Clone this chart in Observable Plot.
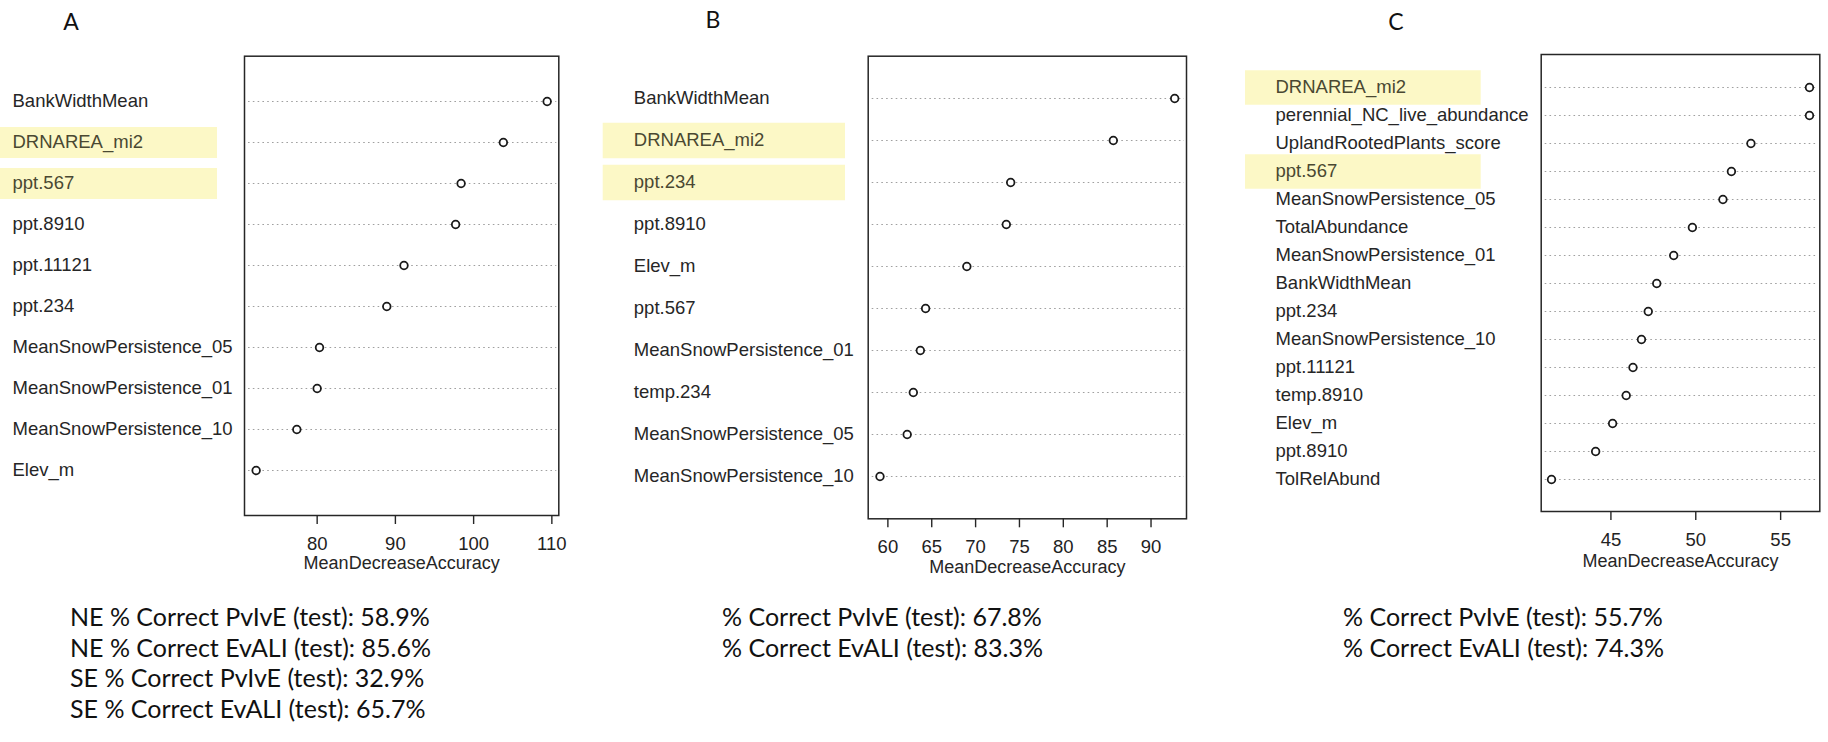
<!DOCTYPE html>
<html>
<head>
<meta charset="utf-8">
<script src="https://cdn.jsdelivr.net/npm/d3@7"></script>
<script src="https://cdn.jsdelivr.net/npm/@observablehq/plot@0.6"></script>
<style>
  html, body { margin: 0; padding: 0; background: white; }
  #root { position: relative; width: 1828px; height: 742px; overflow: hidden; background: white; }
  .panel { position: absolute; top: 0; }
  #overlay { position: absolute; left: 0; top: 0; }
</style>
</head>
<body>
<div id="root"></div>
<script>
// ---------- data ----------
const namesA = ["BankWidthMean", "DRNAREA_mi2", "ppt.567", "ppt.8910", "ppt.11121", "ppt.234",
  "MeanSnowPersistence_05", "MeanSnowPersistence_01", "MeanSnowPersistence_10", "Elev_m"];
const valuesA = [109.4, 103.8, 98.4, 97.7, 91.1, 88.9, 80.3, 80.0, 77.4, 72.2];
const highlightA = ["DRNAREA_mi2", "ppt.567"];
const ticksA = [80, 90, 100, 110];

const namesB = ["BankWidthMean", "DRNAREA_mi2", "ppt.234", "ppt.8910", "Elev_m", "ppt.567",
  "MeanSnowPersistence_01", "temp.234", "MeanSnowPersistence_05", "MeanSnowPersistence_10"];
const valuesB = [92.7, 85.7, 74.0, 73.5, 69.0, 64.3, 63.7, 62.9, 62.2, 59.1];
const highlightB = ["DRNAREA_mi2", "ppt.234"];
const ticksB = [60, 65, 70, 75, 80, 85, 90];

const namesC = ["DRNAREA_mi2", "perennial_NC_live_abundance", "UplandRootedPlants_score", "ppt.567",
  "MeanSnowPersistence_05", "TotalAbundance", "MeanSnowPersistence_01", "BankWidthMean", "ppt.234",
  "MeanSnowPersistence_10", "ppt.11121", "temp.8910", "Elev_m", "ppt.8910", "TolRelAbund"];
const valuesC = [56.7, 56.7, 53.25, 52.1, 51.6, 49.8, 48.7, 47.7, 47.2, 46.8, 46.3, 45.9, 45.1, 44.1, 41.5];
const highlightC = ["DRNAREA_mi2", "ppt.567"];
const ticksC = [45, 50, 55];

const panelLetters = ["A", "B", "C"];
const axisTitle = "MeanDecreaseAccuracy";

const statsA = ["NE % Correct PvIvE (test): 58.9%", "NE % Correct EvALI (test): 85.6%",
  "SE % Correct PvIvE (test): 32.9%", "SE % Correct EvALI (test): 65.7%"];
const statsB = ["% Correct PvIvE (test): 67.8%", "% Correct EvALI (test): 83.3%"];
const statsC = ["% Correct PvIvE (test): 55.7%", "% Correct EvALI (test): 74.3%"];

// ---------- layout (positions / styles only) ----------
const layout = [
  {names: namesA, values: valuesA, hl: highlightA, ticks: ticksA, stats: statsA,
   left: 0, width: 600, mt: 55.7, mb: 85, ml: 244, mr: 41.7,
   labelX: 12, hlX: 0, hlW: 217, hlH: 31, letterX: 71, letterY: 30, statsX: 70, titleDy: 53},
  {names: namesB, values: valuesB, hl: highlightB, ticks: ticksB, stats: statsB,
   left: 580, width: 620, mt: 55.7, mb: 81.7, ml: 287.7, mr: 14,
   labelX: 633.3, hlX: 602.7, hlW: 242.3, hlH: 35.5, letterX: 713, letterY: 27.5, statsX: 722, titleDy: 54},
  {names: namesC, values: valuesC, hl: highlightC, ticks: ticksC, stats: statsC,
   left: 1220, width: 608, mt: 54, mb: 89, ml: 320.7, mr: 8.7,
   labelX: 1275, hlX: 1245, hlW: 235.7, hlH: 34.4, letterX: 1396, letterY: 30, statsX: 1343, titleDy: 55}
];
const H = 600;
const rFont = "'Liberation Sans', Arial, sans-serif";
const hlColor = "#fcf8c6";

const root = document.getElementById("root");

layout.forEach((p, i) => {
  const data = p.names.map((n, k) => ({name: n, value: p.values[k]}));
  const [lo, hi] = d3.extent(p.values);
  const ext = (hi - lo) * 0.04;
  const frameW = p.width - p.ml - p.mr;
  const svg = Plot.plot({
    width: p.width,
    height: H,
    marginTop: p.mt,
    marginBottom: p.mb,
    marginLeft: p.ml,
    marginRight: p.mr,
    style: {background: "none", overflow: "visible", fontFamily: rFont, color: "#222"},
    x: {domain: [lo - ext, hi + ext], nice: false},
    y: {type: "point", domain: p.names, padding: 1, axis: null},
    marks: [
      // yellow highlight boxes behind selected labels
      Plot.ruleY(p.hl, {
        y: d => d, stroke: hlColor, strokeWidth: p.hlH,
        dx: (p.hlX - p.left) - p.ml, insetRight: frameW - p.hlW
      }),
      // variable labels (left aligned, like R dotchart)
      Plot.text(data, {
        y: "name", text: "name", frameAnchor: "left", textAnchor: "start",
        dx: (p.labelX - p.left) - p.ml, fontSize: 18.5,
        fill: d => p.hl.includes(d.name) ? "#4a4832" : "#262626"
      }),
      // dotted guide lines
      Plot.ruleY(p.names, {y: d => d, stroke: "#a0a0a0", strokeWidth: 1.1,
        strokeDasharray: "1.6,3.2", insetLeft: 4, insetRight: 2}),
      Plot.frame({stroke: "#262626", strokeWidth: 1.5}),
      Plot.dot(data, {x: "value", y: "name", r: 3.8, stroke: "#1a1a1a",
        strokeWidth: 1.8, fill: "white"}),
      Plot.axisX({ticks: p.ticks, tickSize: 9, tickPadding: 12.5, fontSize: 18.5,
        label: null, stroke: "#262626", strokeWidth: 1.4}),
      Plot.text([axisTitle], {text: d => d, frameAnchor: "bottom", dy: p.titleDy,
        fontSize: 18, fill: "#262626"})
    ]
  });
  svg.classList.add("panel");
  svg.style.left = p.left + "px";
  svg.style.position = "absolute";
  svg.style.top = "0px";
  svg.style.maxWidth = "none";
  root.appendChild(svg);
});

// ---------- overlay: panel letters and accuracy statistics ----------
const ns = "http://www.w3.org/2000/svg";
const ov = document.createElementNS(ns, "svg");
ov.setAttribute("id", "overlay");
ov.setAttribute("width", 1828);
ov.setAttribute("height", 742);
root.appendChild(ov);

const calFont = "Lato, 'Open Sans', sans-serif";
layout.forEach((p, i) => {
  const t = document.createElementNS(ns, "text");
  t.setAttribute("x", p.letterX);
  t.setAttribute("y", p.letterY);
  t.setAttribute("text-anchor", "middle");
  t.setAttribute("font-family", calFont);
  t.setAttribute("font-size", 23);
  t.setAttribute("fill", "#111");
  t.textContent = panelLetters[i];
  ov.appendChild(t);
  p.stats.forEach((s, k) => {
    const st = document.createElementNS(ns, "text");
    st.setAttribute("x", p.statsX);
    st.setAttribute("y", 626 + k * 30.5);
    st.setAttribute("font-family", calFont);
    st.setAttribute("font-size", 25);
    st.setAttribute("fill", "#111");
    st.textContent = s;
    ov.appendChild(st);
  });
});
</script>
</body>
</html>
